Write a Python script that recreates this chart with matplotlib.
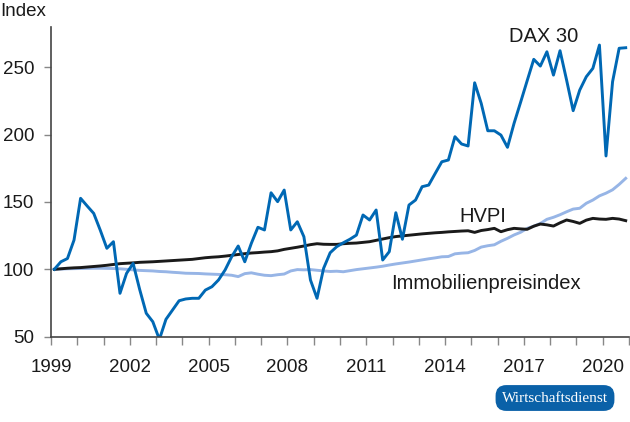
import numpy as np
import matplotlib.pyplot as plt

# quarterly values 1999Q1 - 2020Q4, index 1999Q1 = 100
dax = [100, 105.6, 108, 121.7, 152.7, 147, 141.5, 129,
       115.6, 120.5, 82.2, 97, 104.4, 85, 67.4, 61.1,
       48, 62.9, 69.8, 76.7, 78, 78.5, 78.5, 84.6,
       87.1, 92.1, 99.5, 109.3, 117.3, 105.6, 119.3, 131.2,
       129.2, 156.8, 150.2, 158.8, 129.2, 135.3, 124.2, 92.1,
       78.5, 100.7, 112.3, 116.8, 119.7, 122.3, 125.4, 140.3,
       136.6, 144, 106.9, 113.1, 142, 122.3, 147.7, 151.4,
       161.3, 162.5, 171.2, 179.8, 181.1, 198.4, 193, 191.5,
       238.4, 223.1, 202.8, 202.8, 199.6, 190.5, 208.3, 224,
       240, 255.8, 250.8, 261.4, 244.1, 262.2, 240.4, 217.7,
       233, 242.9, 249.1, 266.4, 184.1, 239.2, 264, 264.4]

hvpi = [100, 100.4, 100.8, 101.1, 101.3, 101.7, 102.1, 102.5,
        103, 103.6, 104.2, 104.5, 104.8, 105.2, 105.4, 105.6,
        105.9, 106.2, 106.5, 106.8, 107.1, 107.4, 108, 108.6,
        109, 109.3, 109.8, 110.4, 111, 111.6, 112.1, 112.4,
        112.8, 113.1, 113.7, 114.8, 115.6, 116.4, 117.3, 118.3,
        119, 118.6, 118.5, 118.5, 119, 119.3, 119.5, 120,
        120.5, 121.5, 122.5, 123.5, 124.3, 124.8, 125.3, 125.8,
        126.3, 126.7, 127.1, 127.4, 127.8, 128.1, 128.4, 128.6,
        127.4, 128.8, 129.5, 130.4, 127.9, 129.4, 130.4, 130.0,
        129.7, 132, 133.6, 133, 132.1, 134.5, 136.6, 135.5,
        134.1, 136.5, 137.8, 137.3, 137.1, 137.8, 137.3, 136.1]

immo = [100, 100.2, 100.4, 100.5, 100.6, 100.7, 100.8, 100.8,
        100.7, 100.6, 100.4, 100.0, 99.6, 99.2, 99.0, 98.8,
        98.4, 98.2, 97.8, 97.5, 97.1, 97.0, 96.9, 96.6,
        96.4, 96.2, 96.0, 95.6, 94.6, 96.8, 97.4, 96.4,
        95.6, 95.3, 96.0, 96.5, 98.8, 99.8, 99.6, 99.8,
        99.3, 98.8, 98.4, 98.6, 98.2, 99.0, 99.8, 100.4,
        101, 101.6, 102.3, 103.2, 104, 104.7, 105.4, 106.2,
        107, 107.8, 108.5, 109.3, 109.5, 111.5, 112, 112.3,
        114, 116.5, 117.5, 118.2, 120.8, 123, 125.5, 127.5,
        130.4, 132, 134, 137.1, 138.6, 140.5, 142.7, 144.7,
        145.3, 149, 151.4, 154.5, 156.5, 159, 163, 167.5]

years = list(range(1999, 2022))
year_labels = [str(y) if (y - 1999) % 3 == 0 else "" for y in years]
y_ticks = [50, 100, 150, 200, 250]

# mid-quarter positions
t = 1999.125 + 0.25 * np.arange(len(dax))

plt.rcParams["font.family"] = ["Liberation Sans", "DejaVu Sans"]

fig = plt.figure(figsize=(6.3, 4.22), dpi=100)
ax = fig.add_axes([0.081, 0.2021, 0.9174, 0.7346])

ax.plot(t, immo, color="#97b5e6", lw=2.1, solid_joinstyle="round")
ax.plot(t, hvpi, color="#1a1a1a", lw=2.1, solid_joinstyle="round")
ax.plot(t, dax, color="#0068b4", lw=2.1, solid_joinstyle="round")

ax.set_xlim(1999, 2021)
ax.set_ylim(50, 280)
ax.set_xticks(years)
ax.set_xticklabels(year_labels, fontsize=13.5, color="#1a1a1a")
ax.set_yticks(y_ticks)
ax.set_yticklabels([str(v) for v in y_ticks], fontsize=13.5, color="#1a1a1a")
ax.tick_params(axis="x", length=6, width=1, color="#888888", pad=10)
ax.tick_params(axis="y", length=5, width=1, color="#888888", pad=7)

for s in ["top", "right"]:
    ax.spines[s].set_visible(False)
for s in ["left", "bottom"]:
    ax.spines[s].set_color("#444444")
    ax.spines[s].set_linewidth(1.2)

ax.text(2017.75, 273, "DAX 30", fontsize=14.5, ha="center", va="center", color="#1a1a1a")
ax.text(2015.43, 139, "HVPI", fontsize=14.5, ha="center", va="center", color="#1a1a1a")
ax.text(2015.54, 89.8, "Immobilienpreisindex", fontsize=14.5, ha="center", va="center",
        color="#1a1a1a")

fig.text(0.0, 0.972, "Index", fontsize=13.5, ha="left", va="center", color="#1a1a1a")

fig.text(555 / 630, 1 - 398 / 422, "Wirtschaftsdienst", fontsize=11,
         family="Liberation Serif", color="white", ha="center", va="center",
         bbox=dict(boxstyle="round,pad=0.42,rounding_size=0.7",
                   facecolor="#0a61a8", edgecolor="none"))

fig.savefig("out.png", dpi=100)
